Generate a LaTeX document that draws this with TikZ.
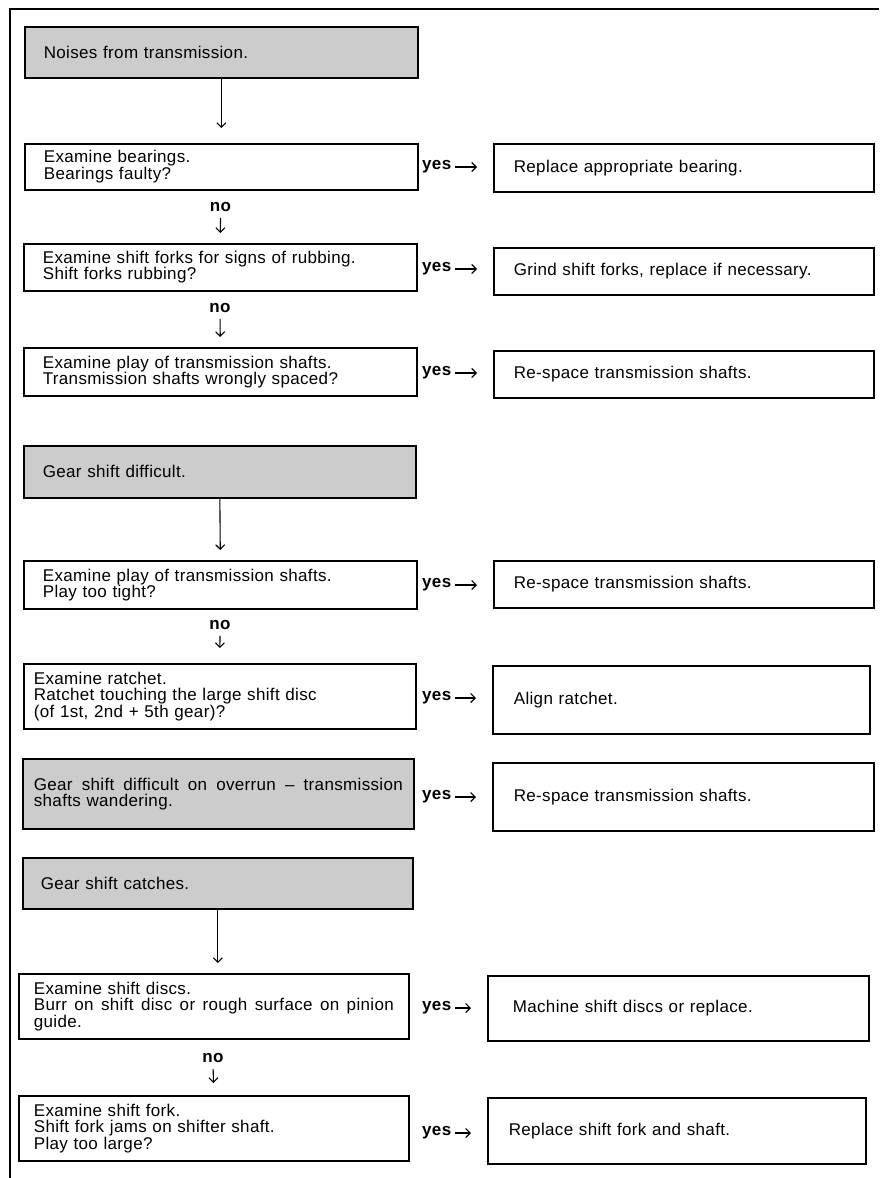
\documentclass[tikz,border=0pt]{standalone}
\usepackage{fontspec}
\setmainfont{Liberation Sans}[LetterSpace=2]
\usetikzlibrary{arrows.meta}
\begin{document}
\begin{tikzpicture}[x=1pt,y=-1pt,
  every node/.style={font=\fontsize{17}{16.5}\selectfont},
  bx/.style 2 args={draw, line width=1.7pt, anchor=north west, align=left,
    text width=#1pt, inner xsep=#2pt, inner ysep=2pt},
  gbx/.style 2 args={bx={#1}{#2}, fill=black!20},
  arr/.style={line width=1.1pt, -{Straight Barb[length=4.5pt,width=9pt]}},
  yes/.style={font=\fontsize{17}{16.5}\selectfont\bfseries, inner sep=1pt, anchor=mid west},
  no/.style={font=\fontsize{17}{16.5}\selectfont\bfseries, inner sep=1pt}]
\useasboundingbox (0,0) rectangle (879,1178);
% outer frame
\draw[line width=1.5pt] (10,1178) -- (10,9) -- (879,9);

% ---- section 1
\node[gbx={355}{19}, minimum height=51pt] (g1) at (24,26) {Noises from transmission.};
\node[bx={355}{19}, minimum height=46pt] (b2) at (24,143) {Examine bearings.\\Bearings faulty?};
\node[bx={340}{20}, minimum height=48pt] (r1) at (493,143) {Replace appropriate bearing.};
\node[yes] (y1) at (421,167) {yes};

\node[no] (n1) at (220.5,207) {no};
\node[bx={355}{19}, minimum height=47pt] (b3) at (23,243) {Examine shift forks for signs of rubbing.\\Shift forks rubbing?};
\node[bx={340}{20}, minimum height=47pt] (r2) at (493,247) {Grind shift forks, replace if necessary.};
\node[yes] (y2) at (421,269) {yes};

\node[no] (n2) at (220,308) {no};
\node[bx={355}{19}, minimum height=48pt] (b4) at (23,347) {Examine play of transmission shafts.\\Transmission shafts wrongly spaced?};
\node[bx={340}{20}, minimum height=47pt] (r3) at (493,350) {Re-space transmission shafts.};
\node[yes] (y3) at (421,373) {yes};

% ---- section 2
\node[gbx={354}{19}, minimum height=52pt] (g2) at (23,445) {Gear shift difficult.};
\node[bx={355}{19}, minimum height=48pt] (b5) at (23,560) {Examine play of transmission shafts.\\Play too tight?};
\node[bx={340}{20}, minimum height=47pt] (r4) at (493,560) {Re-space transmission shafts.};
\node[yes] (y4) at (421,585) {yes};

\node[no] (n3) at (220,625) {no};
\node[bx={372}{10}, minimum height=65pt] (b6) at (23,663) {Examine ratchet.\\Ratchet touching the large shift disc\\(of 1st, 2nd + 5th gear)?};
\node[bx={335}{21}, minimum height=68pt] (r5) at (492,665) {Align ratchet.};
\node[yes] (y5) at (421,698) {yes};

\node[gbx={369}{11}, minimum height=70pt] (g3) at (22,758) {\leavevmode\hbox to 369pt{Gear \hfil shift \hfil difficult \hfil on \hfil overrun \hfil – \hfil transmission}\\shafts wandering.};
\node[bx={339}{21}, minimum height=68pt] (r6) at (492,762) {Re-space transmission shafts.};
\node[yes] (y6) at (421,797) {yes};

% ---- section 3
\node[gbx={354}{18}, minimum height=51pt] (g4) at (22,857) {Gear shift catches.};
\node[bx={360}{15}, minimum height=65pt] (b8) at (18,973) {Examine shift discs.\\\leavevmode\hbox to 360pt{Burr \hfil on \hfil shift \hfil disc \hfil or \hfil rough \hfil surface \hfil on \hfil pinion}\\guide.};
\node[bx={331}{25}, minimum height=65pt] (r7) at (487,975) {Machine shift discs or replace.};
\node[yes] (y7) at (421,1008) {yes};

\node[no] (n4) at (213,1058) {no};
\node[bx={360}{15}, minimum height=65pt] (b9) at (18,1095) {Examine shift fork.\\Shift fork jams on shifter shaft.\\Play too large?};
\node[bx={336}{21}, minimum height=66pt] (r8) at (487,1097) {Replace shift fork and shaft.};
\node[yes] (y8) at (421,1133) {yes};

% ---- connectors
\draw[arr, shorten >=15pt] (g1.south) -- (b2.north);
\draw[arr, shorten <=5pt, shorten >=10pt] (n1.south) -- (b3.north);
\draw[arr, shorten <=5pt, shorten >=10pt] (n2.south) -- (b4.north);
\draw[arr, shorten >=10pt] (g2.south) -- (b5.north);
\draw[arr, shorten <=5pt, shorten >=15pt] (n3.south) -- (b6.north);
\draw[arr, shorten >=10pt] (g4.south) -- (g4.south |- b8.north);
\draw[arr, shorten <=5pt, shorten >=12pt] (n4.south) -- (b9.north);

\foreach \y/\r in {y1/r1,y2/r2,y3/r3,y4/r4,y5/r5,y6/r6,y7/r7,y8/r8}
  \draw[arr, shorten <=3pt, shorten >=16pt] (\y.mid east) -- (\y.mid east -| \r.west);
\end{tikzpicture}
\end{document}
